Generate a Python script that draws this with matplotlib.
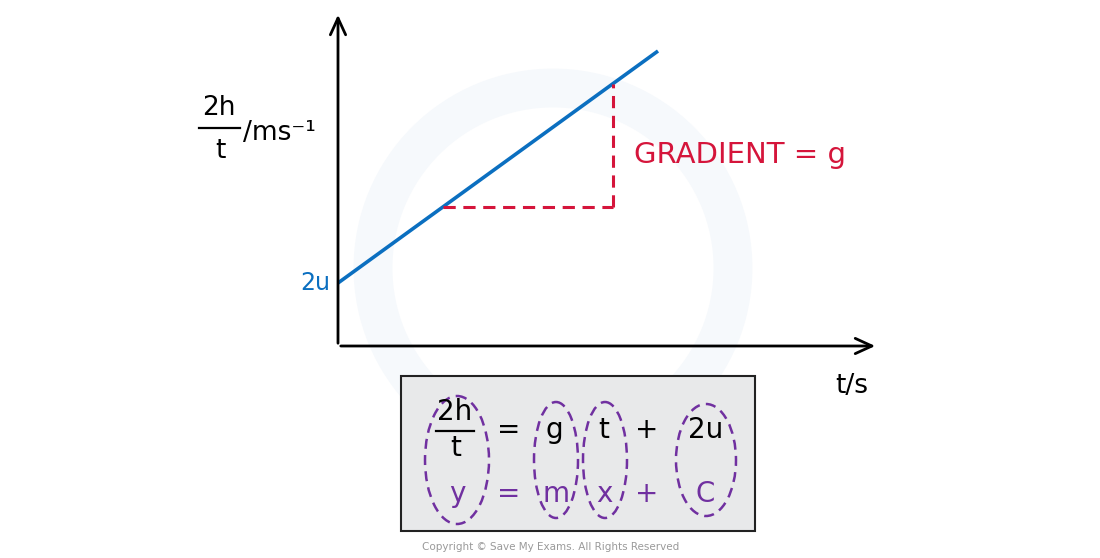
import numpy as np
import matplotlib
matplotlib.use("Agg")
import matplotlib.pyplot as plt
from matplotlib.patches import Ellipse, Rectangle, Circle

# datos del grafico (unidades arbitrarias del eje)
t_linea = [0, 320]
y_linea = [63, 295]
t_triangulo = [105, 275]       # extremos del cateto horizontal
x_max, y_max = 540, 334

# ecuacion
fila_sup = ["=", "g", "t", "+", "2u"]
fila_inf = ["y", "=", "m", "x", "+", "C"]

AZUL = "#0b6fc0"
ROJO = "#d5153b"
MORADO = "#7030a0"

plt.rcParams['font.family'] = ['DejaVu Sans']

fig = plt.figure(figsize=(11, 5.58), dpi=100)

# capa de fondo en pixeles
fondo = fig.add_axes([0, 0, 1, 1])
fondo.set_xlim(0, 1100)
fondo.set_ylim(558, 0)
fondo.axis('off')

# marca de agua muy tenue
fondo.add_patch(Circle((553, 268), 180, fill=False, lw=28, ec='#f6f9fc', zorder=0))

# grafico
ax = fig.add_axes([338/1100, (558-346)/558, x_max/1100, y_max/558])
ax.set_xlim(0, x_max)
ax.set_ylim(0, y_max)
ax.axis('off')

ax.annotate('', xy=(x_max, 0), xytext=(0, 0),
            arrowprops=dict(arrowstyle='->,head_length=1.2,head_width=0.55', lw=2, color='black'),
            annotation_clip=False)
ax.annotate('', xy=(0, y_max), xytext=(0, 0),
            arrowprops=dict(arrowstyle='->,head_length=1.2,head_width=0.55', lw=2, color='black'),
            annotation_clip=False)

ax.plot(t_linea, y_linea, color=AZUL, lw=2.6, solid_capstyle='butt', clip_on=False)

pendiente = (y_linea[1] - y_linea[0]) / (t_linea[1] - t_linea[0])
y_base = y_linea[0] + pendiente * t_triangulo[0]
y_tope = y_linea[0] + pendiente * t_triangulo[1]
ax.plot(t_triangulo, [y_base, y_base], color=ROJO, lw=2.2, ls=(0, (4, 2.5)), clip_on=False)
ax.plot([t_triangulo[1], t_triangulo[1]], [y_base, y_tope], color=ROJO, lw=2.2,
        ls=(0, (4, 2.5)), clip_on=False)

ax.text(t_triangulo[1] + 21, 191, 'GRADIENT = g', color=ROJO, fontsize=21,
        ha='left', va='center')
ax.text(-8, y_linea[0], '2u', color=AZUL, fontsize=17, ha='right', va='center')

# etiquetas de ejes
fondo.text(219, 108, '2h', fontsize=19, ha='center', va='center')
fondo.plot([199, 240], [128, 128], color='black', lw=1.6)
fondo.text(220, 151, 't', fontsize=19, ha='center', va='center')
fondo.text(243, 133, '/ms⁻¹', fontsize=19, ha='left', va='center')
fondo.text(852, 386, 't/s', fontsize=19, ha='center', va='center')

# recuadro de la ecuacion
fondo.add_patch(Rectangle((401, 376), 354, 155, fc='#e8e9ea', ec='#222222', lw=1.5))

fondo.text(455, 412, '2h', fontsize=20, ha='center', va='center')
fondo.plot([436, 474], [431, 431], color='black', lw=1.6)
fondo.text(456, 448, 't', fontsize=20, ha='center', va='center')
for s, x in zip(fila_sup, [509, 554, 604, 647, 706]):
    fondo.text(x, 430, s, fontsize=20, ha='center', va='center')
for s, x in zip(fila_inf, [457, 509, 556, 604, 647, 705]):
    fondo.text(x, 494, s, fontsize=20, ha='center', va='center', color=MORADO)

for cx, w, h in [(457, 64, 128), (556, 44, 116), (605, 44, 116), (706, 60, 112)]:
    fondo.add_patch(Ellipse((cx, 460), w, h, fill=False, ec=MORADO, lw=1.8,
                            ls=(0, (4, 2.5))))

fondo.text(551, 547, 'Copyright © Save My Exams. All Rights Reserved',
           fontsize=7.5, color='#9a9a9a', ha='center', va='center')

fig.savefig('out.png', dpi=100)
